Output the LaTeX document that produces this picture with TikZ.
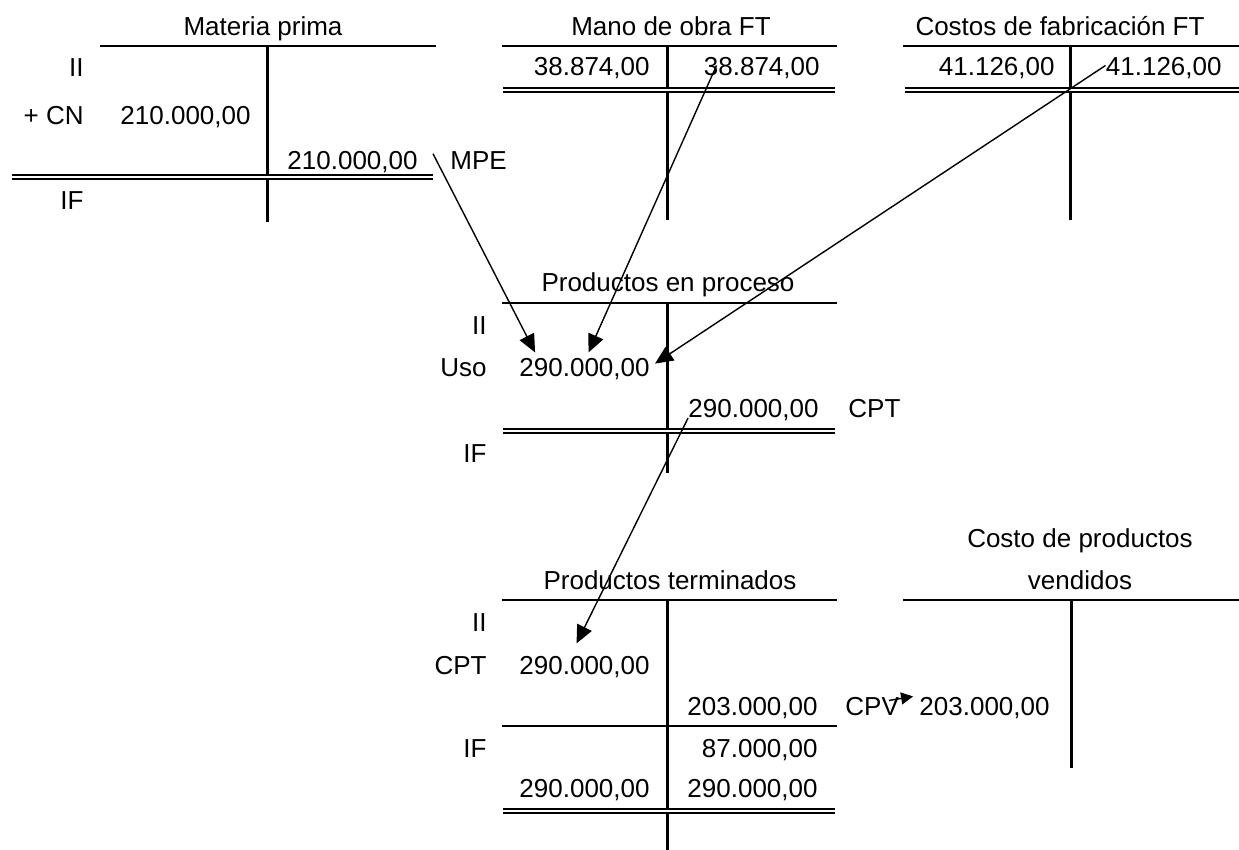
\documentclass[tikz,border=0pt]{standalone}
\usepackage{fontspec}
\setmainfont{Liberation Sans}
\usetikzlibrary{arrows.meta}

\begin{document}
\begin{tikzpicture}[x=0.5pt, y=-0.5pt,
    font=\fontsize{13}{16}\selectfont,
    acctitle/.style={anchor=base, inner sep=0pt},
    lbl/.style={anchor=base east, inner sep=0pt},
    rlbl/.style={anchor=base west, inner sep=0pt},
    amount/.style={anchor=base east, inner sep=0pt},
    tline/.style={line width=1.2pt},
    tbar/.style={line width=1.5pt},
    closing/.style={double, line width=1pt, double distance=1pt},
    flow/.style={-{Triangle[length=9pt,width=8pt]}, line width=0.7pt},
    shortflow/.style={-{Triangle[length=6pt,width=6pt]}, line width=0.7pt}]
  \useasboundingbox (0,0) rectangle (1239,850);

  \node[acctitle] (mpT) at (263,36) {Materia prima};
  \draw[tline] (100,46) -- (436,46);
  \draw[tbar] (267,46) -- (267,222);
  \draw[closing] (12,177) -- (433,177);
  \node[lbl] (mpII) at (84,77) {II};
  \node[lbl] (mpCN) at (84,125) {+ CN};
  \node[amount] (mpin) at (251,125) {210.000,00};
  \node[amount] (mpout) at (418,170) {210.000,00};
  \node[rlbl] (mpe) at (450,170) {MPE};
  \node[lbl] (mpIF) at (84,210) {IF};

  \node[acctitle] (moT) at (671,36) {Mano de obra FT};
  \draw[tline] (502,46) -- (837,46);
  \draw[tbar] (667,46) -- (667,220);
  \draw[closing] (503,90) -- (835,90);
  \node[amount] (mol) at (650,76) {38.874,00};
  \node[amount] (mor) at (820,76) {38.874,00};

  \node[acctitle] (cfT) at (1060,36) {Costos de fabricación FT};
  \draw[tline] (903,46) -- (1239,46);
  \draw[tbar] (1070,46) -- (1070,220);
  \draw[closing] (905,90) -- (1239,90);
  \node[amount] (cfl) at (1055,76) {41.126,00};
  \node[amount] (cfr) at (1222,76) {41.126,00};

  \node[acctitle] (ppT) at (668,292) {Productos en proceso};
  \draw[tline] (502,303) -- (837,303);
  \draw[tbar] (667,303) -- (667,473);
  \draw[closing] (503,431) -- (835,431);
  \node[lbl] (ppII) at (487,335) {II};
  \node[lbl] (ppUso) at (487,377) {Uso};
  \node[amount] (ppuso) at (650,377) {290.000,00};
  \node[amount] (ppout) at (819,418) {290.000,00};
  \node[rlbl] (ppcpt) at (848,418) {CPT};
  \node[lbl] (ppIF) at (487,463) {IF};

  \node[acctitle] (ptT) at (670,590) {Productos terminados};
  \draw[tline] (502,600) -- (837,600);
  \draw[tbar] (667,600) -- (667,850);
  \draw[tline] (502,726) -- (837,726);
  \draw[closing] (503,811) -- (835,811);
  \node[lbl] (ptII) at (487,632) {II};
  \node[lbl] (ptCPT) at (487,675) {CPT};
  \node[amount] (ptin) at (650,675) {290.000,00};
  \node[amount] (ptout) at (818,715) {203.000,00};
  \node[rlbl] (cpv) at (845,715) {CPV};
  \node[lbl] (ptIF) at (487,757) {IF};
  \node[amount] (ptif) at (818,757) {87.000,00};
  \node[amount] (ptsuml) at (650,798) {290.000,00};
  \node[amount] (ptsumr) at (818,798) {290.000,00};

  \node[anchor=south, inner sep=0pt, align=center, font=\fontsize{13}{21}\selectfont] (cpvT) at (1080,590) {Costo de productos\\vendidos};
  \draw[tline] (903,600) -- (1239,600);
  \draw[tbar] (1071,600) -- (1071,768);
  \node[amount] (cpvin) at (1050,715) {203.000,00};

  \draw[flow] ([shift={(-8.5pt,-1pt)}]mpe.north west) -- ([shift={(8pt,3pt)}]ppuso.north west);
  \draw[flow] ([shift={(6.5pt,-4pt)}]mor.north west) -- ([shift={(2pt,3pt)}]ppuso.north);
  \draw[flow] ([yshift=-4pt]cfr.north west) -- ([shift={(2.5pt,3pt)}]ppuso.east);
  \draw[flow] (ppout.base west) -- ([shift={(-4pt,6.5pt)}]ptin.north);
  \draw[shortflow] ([shift={(-15pt,-2pt)}]cpvin.north west) -- ([shift={(-3pt,0pt)}]cpvin.north west);
\end{tikzpicture}
\end{document}
